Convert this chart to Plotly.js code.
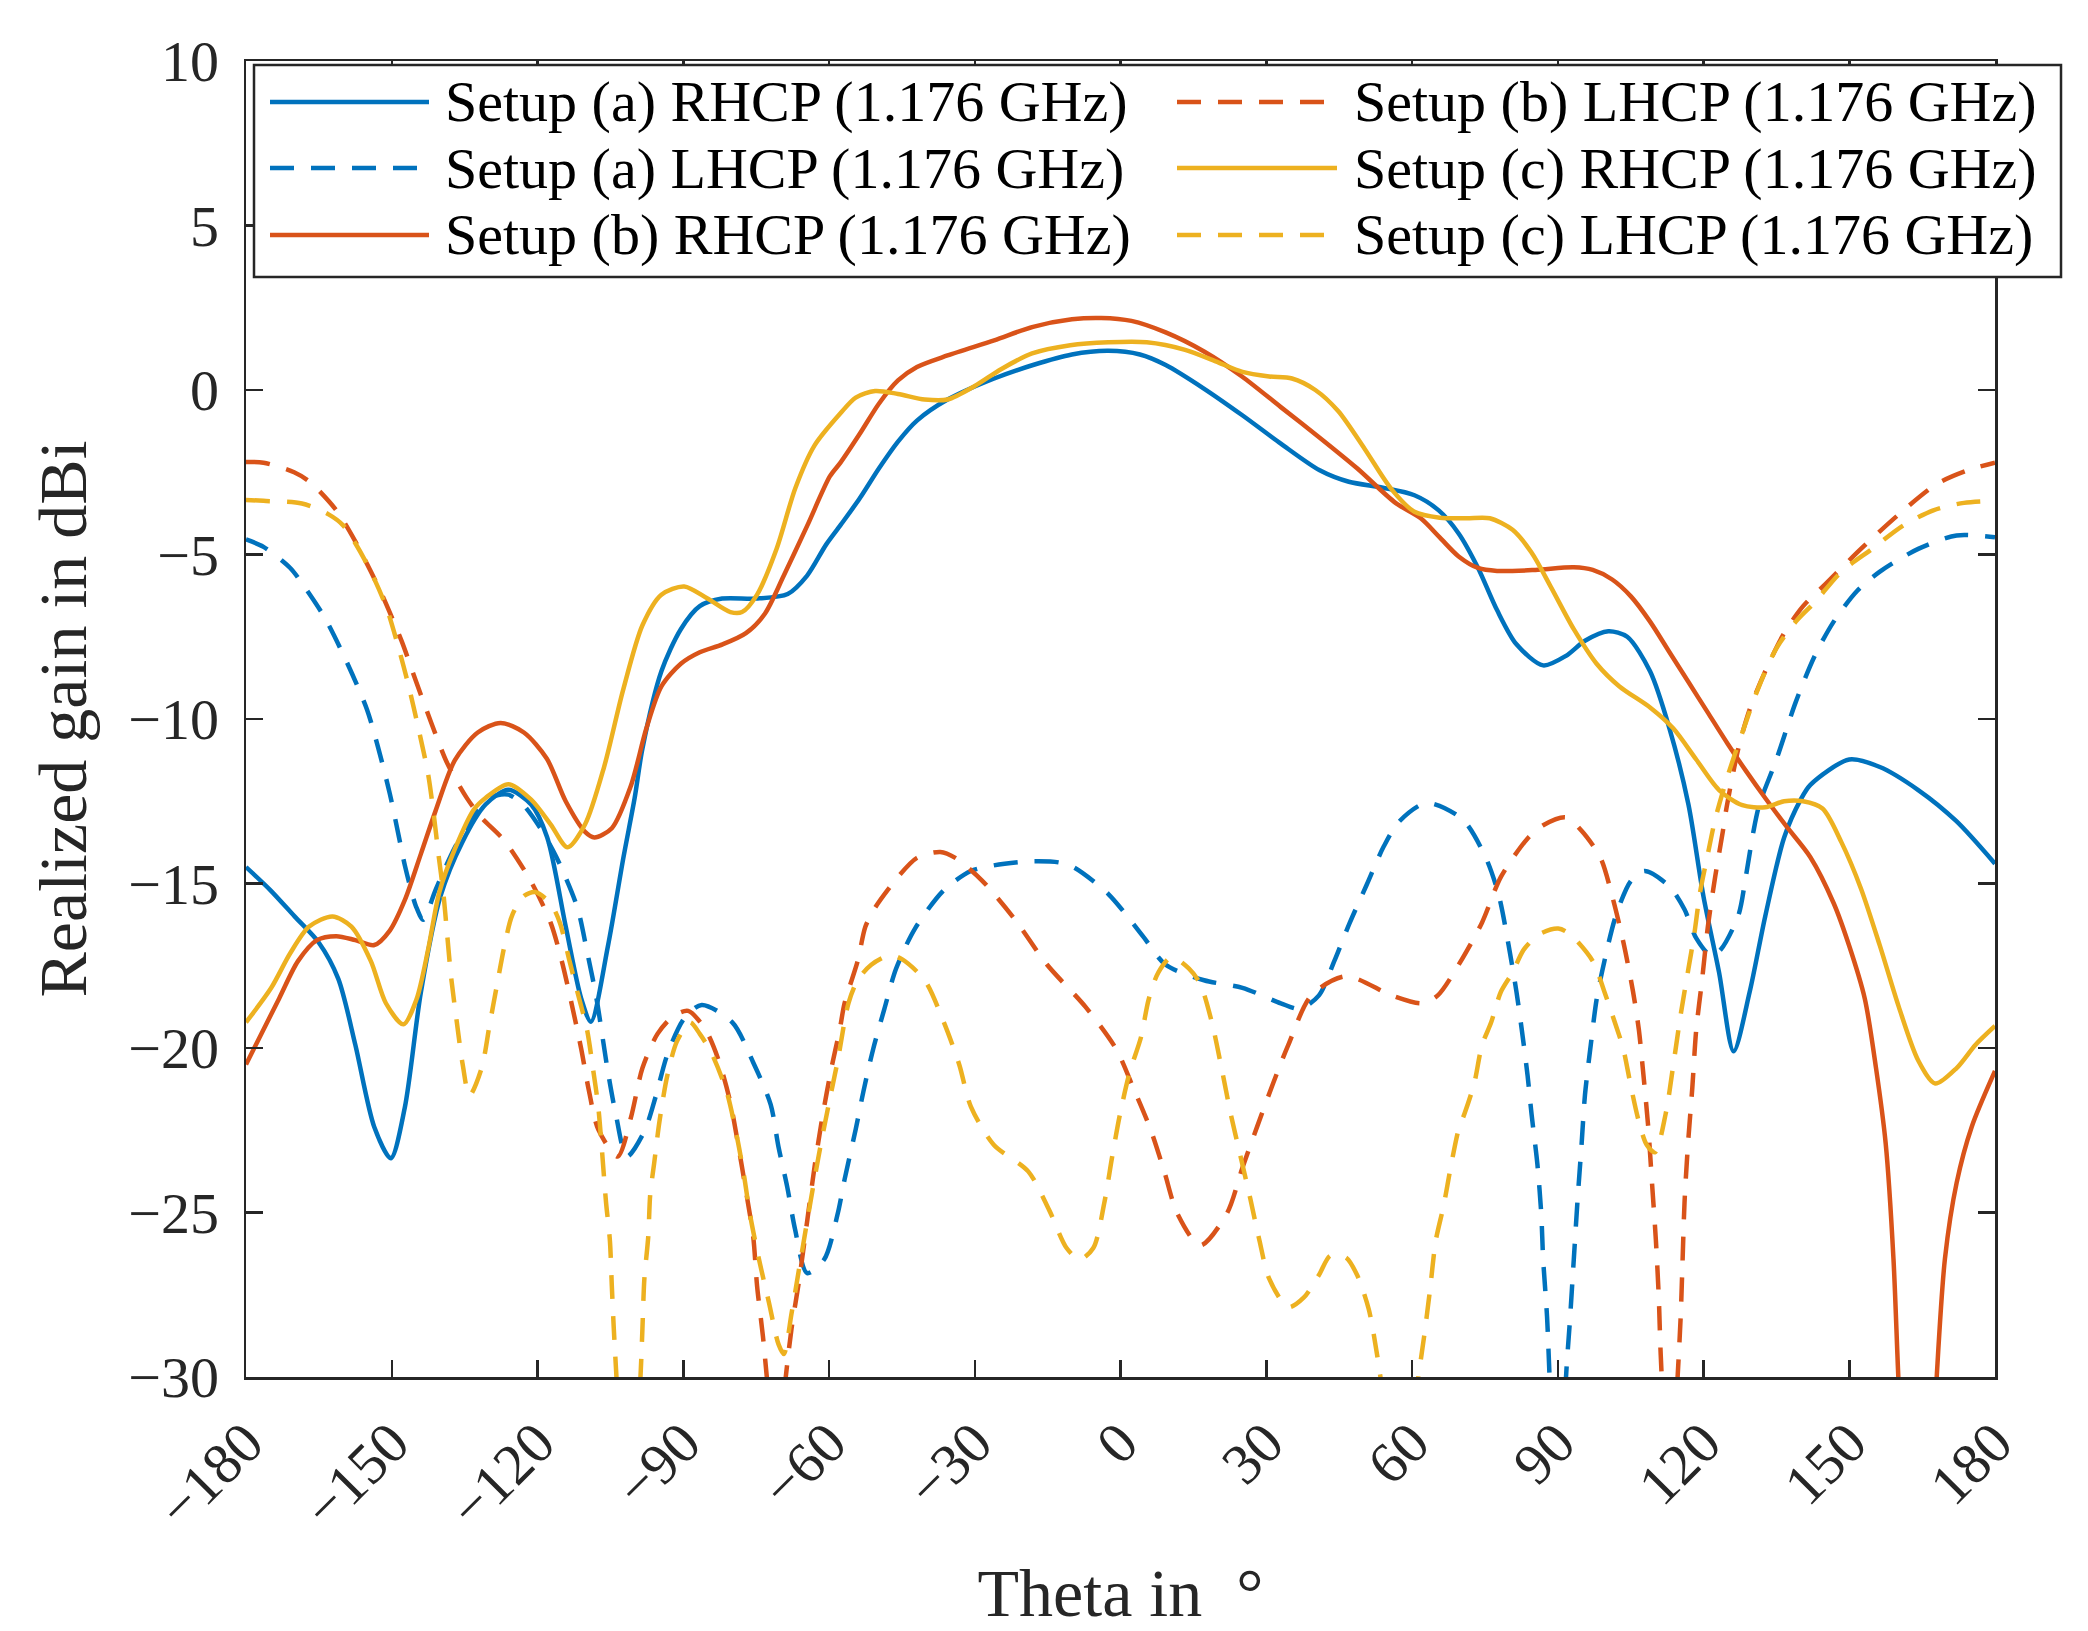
<!DOCTYPE html>
<html>
<head>
<meta charset="utf-8">
<script src="https://cdn.plot.ly/plotly-3.0.1.min.js"></script>
<style>
  html, body { margin: 0; padding: 0; background: #fff; }
  #plot { width: 2088px; height: 1631px; }
</style>
</head>
<body>
<div id="plot"></div>
<script>
// Realized gain vs theta, three antenna setups at 1.176 GHz.
// Values (deg, dBi). Points below
// -30 dBi only exist so the deep nulls run off the bottom of the axes.

const legendLabels = [
  "Setup (a) RHCP (1.176 GHz)",
  "Setup (a) LHCP (1.176 GHz)",
  "Setup (b) RHCP (1.176 GHz)",
  "Setup (b) LHCP (1.176 GHz)",
  "Setup (c) RHCP (1.176 GHz)",
  "Setup (c) LHCP (1.176 GHz)",
];

const thetaTicks = [-180, -150, -120, -90, -60, -30, 0, 30, 60, 90, 120, 150, 180];
const gainTicks = [-30, -25, -20, -15, -10, -5, 0, 5, 10];

// ── Setup (a) ──────────────────────────────────────────────────────
const thetaARhcp = [-180, -175, -170, -165, -161, -157.5, -153.6, -150.2, -147.3, -144,
  -140, -135.5, -130.7, -126, -121.3, -118, -114.2, -111, -109, -105.5,
  -102.3, -100, -98.4, -94.5, -90.5, -86.6, -82, -75, -68.5, -64.5,
  -60.6, -57.6, -53.7, -49.7, -45.8, -41.9, -35.6, -26, -18, -10,
  -2.5, 4, 9.3, 17, 25, 33, 41, 47, 54, 60.5,
  65.5, 69.6, 73.6, 77.5, 81.5, 87, 91.7, 95.6, 100.4, 104.3,
  109, 113, 116.9, 120, 123.2, 126.2, 129.5, 132.7, 136.6, 140,
  142, 150, 156.3, 164.2, 172, 180];
const gainARhcp = [-14.5, -15.2, -16.0, -16.8, -17.9, -19.9, -22.4, -23.35, -21.8, -18.3,
  -15.4, -13.75, -12.6, -12.15, -12.6, -13.6, -16.3, -18.5, -19.2, -16.9,
  -14.2, -12.4, -10.9, -8.55, -7.27, -6.57, -6.34, -6.34, -6.2, -5.64,
  -4.7, -4.1, -3.3, -2.38, -1.57, -0.93, -0.29, 0.35, 0.76, 1.08,
  1.19, 1.08, 0.76, 0.06, -0.76, -1.63, -2.44, -2.79, -2.97, -3.2,
  -3.66, -4.36, -5.41, -6.69, -7.73, -8.37, -8.08, -7.62, -7.33, -7.5,
  -8.55, -10.29, -12.6, -15.4, -17.7, -20.1, -18.3, -16.0, -13.6, -12.45,
  -12.0, -11.23, -11.46, -12.16, -13.1, -14.4];

const thetaALhcp = [-180, -176.4, -170.9, -168.5, -163.8, -159.1, -155.1, -152.8, -150.4, -148.5,
  -147.3, -145, -143.5, -141, -137, -133, -129, -126, -123, -119.5,
  -116.1, -111.8, -109.8, -107.9, -105.5, -103.9, -101.6, -98, -95.7, -93.3,
  -89.8, -86.2, -79.9, -75.6, -72, -70.4, -68.6, -67, -64.5, -61,
  -58.2, -56.8, -54.5, -52.9, -50.9, -48.6, -46.2, -42.3, -36.35, -30.8,
  -26.1, -19, -12.7, -9.6, -2.5, 4.6, 9.3, 17.2, 25.1, 33,
  36.9, 40.85, 44, 47.2, 50.7, 54.2, 57.4, 63, 70.4, 75.2,
  77.9, 79.9, 81.5, 82.6, 83.8, 84.6, 85.8, 86.6, 87, 87.8,
  88.2, 90, 91.7, 92.5, 93.3, 94.1, 94.9, 95.6, 96.8, 98,
  99.6, 102, 105.1, 107.9, 113, 116.1, 118.5, 121.6, 123.6, 127.2,
  128.7, 130.3, 131.5, 135, 139, 142.9, 146.8, 151.6, 156.3, 164.2,
  172.1, 180];
const gainALhcp = [-4.54, -4.77, -5.41, -5.87, -6.92, -8.32, -9.71, -10.87, -12.27, -13.6,
  -14.45, -15.7, -16.1, -15.2, -13.9, -12.9, -12.35, -12.3, -12.6, -13.3,
  -14.2, -15.73, -17.07, -18.46, -20.73, -22.0, -23.3, -22.53, -21.49, -20.21,
  -19.1, -18.69, -19.22, -20.44, -21.72, -23.0, -24.22, -25.5, -26.84, -26.43,
  -25.03, -24.0, -22.47, -21.31, -20.03, -18.81, -17.59, -16.37, -15.2, -14.62,
  -14.45, -14.33, -14.36, -14.51, -15.32, -16.6, -17.47, -17.94, -18.17, -18.64,
  -18.81, -18.4, -17.36, -16.19, -15.03, -13.87, -13.11, -12.55, -13.05, -14.22,
  -15.38, -16.89, -18.29, -19.45, -20.85, -22.0, -23.52, -25.03, -26.43, -28.17,
  -29.57, -36, -30, -28.29, -26.43, -24.57, -22.94, -21.43, -19.9, -18.52,
  -17.36, -15.96, -14.91, -14.62, -15.09, -15.79, -16.66, -17.2, -17.0, -15.96,
  -14.8, -13.4, -12.6, -11.23, -9.48, -8.08, -7.04, -6.11, -5.52, -4.83,
  -4.42, -4.48];

// ── Setup (b) ──────────────────────────────────────────────────────
const thetaBRhcp = [-180, -173.2, -169.3, -165.4, -161.4, -157.5, -153.6, -150.4, -147.3, -144,
  -141, -137, -132.3, -127.6, -122.8, -118.1, -114.2, -110.2, -108.3, -104.7,
  -100.8, -97.6, -94.5, -90.5, -86.6, -81.9, -77.1, -73.2, -69.3, -64.5,
  -59.8, -57.6, -53.7, -49.7, -45.8, -41.9, -35.6, -26, -18, -10,
  -4, 2.25, 9.3, 17.2, 25, 33, 41, 48.7, 56.6, 61.8,
  65.7, 69.6, 73.6, 77.5, 85.4, 93.3, 97.2, 101.2, 105.1, 109,
  113, 117, 121, 125, 128.7, 132.7, 137, 142, 146.8, 150,
  153.2, 155.5, 157.5, 159.1, 160.1, 162, 164, 166, 168, 169.7,
  172.1, 175.2, 180];
const gainBRhcp = [-20.5, -18.5, -17.36, -16.72, -16.6, -16.72, -16.87, -16.43, -15.5, -14.1,
  -12.8, -11.25, -10.41, -10.12, -10.41, -11.2, -12.5, -13.43, -13.6, -13.32,
  -12.04, -10.29, -9.01, -8.32, -7.97, -7.73, -7.39, -6.8, -5.64, -4.13,
  -2.62, -2.2, -1.34, -0.41, 0.29, 0.7, 1.05, 1.51, 1.92, 2.15,
  2.19, 2.1, 1.75, 1.17, 0.41, -0.52, -1.45, -2.38, -3.43, -3.9,
  -4.48, -5.06, -5.41, -5.5, -5.47, -5.39, -5.47, -5.76, -6.28, -7.04,
  -7.97, -8.9, -9.83, -10.76, -11.57, -12.4, -13.25, -14.2, -15.6, -16.9,
  -18.5, -20.6, -22.9, -26.4, -30, -36, -45, -36, -30, -26.4,
  -24.1, -22.4, -20.7];

const thetaBLhcp = [-180, -176.4, -170.1, -166.9, -161.4, -157.5, -154.3, -152, -148, -144.9,
  -141.7, -138.6, -134.6, -131.5, -126.8, -121.3, -117.3, -115, -113, -111,
  -109.4, -107.5, -103.5, -100.8, -98.4, -95.3, -92.1, -89, -85.4, -82.7,
  -80.3, -78.7, -77.1, -75.6, -74.8, -73.6, -72.8, -70.8, -68.9, -67.7,
  -66.1, -64.5, -63, -61.4, -59.5, -57.8, -56.8, -54.1, -52.5, -50.5,
  -45.8, -41.9, -37.1, -34, -28.5, -21.8, -15.1, -7.2, -0.9, 2.6,
  6.2, 9, 11.7, 16.4, 21.9, 25.1, 28.2, 31.4, 34.5, 39.3,
  46.4, 55.8, 62.1, 65.3, 69.6, 74.4, 78.3, 83.8, 87, 91.7,
  94.9, 98.8, 101.2, 103.5, 105.5, 106.7, 107.5, 108.6, 109.4, 110.2,
  110.8, 111.2, 113, 114.7, 115.3, 115.7, 116.1, 116.8, 117.7, 118.5,
  119.7, 120.9, 122.4, 124, 124.8, 127.2, 129.5, 132.7, 136.6, 140.5,
  145.3, 152.4, 160.2, 168.1, 174.4, 180];
const gainBLhcp = [-2.19, -2.21, -2.5, -2.79, -3.66, -4.6, -5.52, -6.22, -7.62, -8.9,
  -10.18, -11.34, -12.39, -13.0, -13.7, -14.95, -16.19, -17.36, -18.64, -20.03,
  -21.31, -22.47, -23.3, -22.13, -20.61, -19.57, -19.04, -18.87, -19.45, -20.38,
  -21.66, -22.94, -24.34, -25.73, -27.24, -28.76, -30.0, -33, -30, -28.52,
  -27.01, -25.27, -23.64, -22.13, -20.61, -19.45, -18.64, -17.36, -16.31, -15.73,
  -14.8, -14.22, -14.04, -14.22, -14.91, -16.08, -17.47, -18.75, -20.03, -21.2,
  -22.48, -23.75, -25.03, -26.0, -25.03, -23.64, -22.36, -21.08, -19.92, -18.4,
  -17.82, -18.4, -18.64, -18.4, -17.47, -16.19, -14.8, -13.63, -13.23, -12.99,
  -13.4, -14.22, -15.38, -16.78, -18.29, -19.45, -20.61, -22.36, -24.1, -25.85,
  -27.59, -29.34, -34, -29.92, -28.17, -26.43, -24.68, -22.94, -21.2, -19.45,
  -17.94, -16.31, -14.8, -13.4, -12.65, -10.88, -9.71, -8.55, -7.39, -6.57,
  -5.87, -4.83, -3.78, -2.85, -2.44, -2.21];

// ── Setup (c) ──────────────────────────────────────────────────────
const thetaCRhcp = [-180, -174.8, -170.9, -167, -162.2, -158.3, -154.3, -151.2, -147.6, -144.9,
  -142.5, -140.2, -137, -133.1, -130.7, -126, -121.3, -117.3, -113.8, -110.2,
  -106.3, -102.4, -98.4, -94.5, -89.8, -85, -80.3, -77.9, -74.8, -70.8,
  -66.9, -63, -57.6, -54.5, -50.5, -45.8, -40.3, -35.6, -30, -24.5,
  -18.2, -10.35, -2.5, 5.4, 13.3, 19.6, 25.1, 30.6, 35.3, 40.1,
  44.8, 50.3, 55.8, 60.5, 65.7, 71.2, 76, 80.7, 84.6, 88.6,
  93.3, 98, 102.7, 109, 113.8, 118.5, 123.2, 128, 132.7, 136.6,
  140.5, 144.5, 148.4, 152.4, 156.3, 160.2, 164.2, 167.7, 172.1, 176,
  180];
const gainCRhcp = [-19.22, -18.17, -17.12, -16.31, -16.0, -16.31, -17.36, -18.64, -19.28, -18.52,
  -17.0, -15.26, -13.95, -12.75, -12.4, -11.98, -12.45, -13.2, -13.9, -13.2,
  -11.46, -9.13, -7.15, -6.22, -5.97, -6.34, -6.75, -6.75, -6.22, -4.83,
  -2.97, -1.69, -0.7, -0.23, -0.03, -0.12, -0.29, -0.29, 0.12, 0.64,
  1.11, 1.36, 1.45, 1.45, 1.22, 0.87, 0.55, 0.41, 0.35, 0.0,
  -0.64, -1.8, -3.02, -3.7, -3.88, -3.9, -3.9, -4.25, -4.94, -5.99,
  -7.27, -8.32, -9.01, -9.65, -10.29, -11.23, -12.16, -12.62, -12.68, -12.5,
  -12.5, -12.72, -13.75, -15.15, -16.89, -18.75, -20.38, -21.08, -20.61, -19.9,
  -19.33];

const thetaCLhcp = [-180, -176.4, -168.5, -163, -159.9, -155.1, -151.2, -148.8, -146.5, -144.5,
  -142.5, -141.3, -140.4, -139.4, -138.6, -137.8, -136.6, -135.4, -134, -131.5,
  -129.9, -128.3, -126.8, -125.2, -122.8, -120.5, -117.3, -115.4, -113.4, -111.8,
  -109.8, -108.6, -107.5, -106.7, -105.9, -105.1, -104.7, -104.3, -103.8, -101.3,
  -98.8, -98.4, -98, -97.2, -96.8, -96, -94.9, -93.3, -91.3, -88.6,
  -86.6, -84.2, -81.1, -79.1, -77.5, -76.3, -74.4, -72.4, -70.4, -69.3,
  -67.7, -66.1, -64.5, -63, -61.4, -59.5, -58.2, -56, -54.1, -51.3,
  -47.4, -45, -40.3, -36.35, -33.2, -30.8, -26.1, -19, -14.7, -11.1,
  -8.4, -5.6, -3.3, -1.7, -0.1, 1.9, 4.2, 5.8, 7.8, 10.5,
  14.1, 16.4, 18.8, 20.8, 22.7, 24.7, 26.7, 28.6, 30.6, 34.5,
  37.7, 40.85, 43.2, 46.4, 48.7, 51.1, 52.7, 54, 57.5, 61.3,
  62.5, 63.7, 64.9, 66.5, 68.1, 69.6, 70.8, 72.8, 74.4, 76.3,
  78.3, 80.7, 83, 86.2, 90.1, 92.5, 97.2, 99.6, 102, 103.5,
  105.1, 106.7, 108.3, 110, 112.2, 113.8, 115.3, 116.9, 118.1, 119.3,
  120.9, 122.4, 124.8, 128, 131.1, 135, 139, 142.9, 148.4, 154.7,
  161, 167.3, 173.6, 180];
const gainCLhcp = [-3.34, -3.37, -3.45, -3.78, -4.13, -5.29, -6.57, -7.73, -9.01, -10.29,
  -11.69, -12.97, -14.1, -15.26, -16.54, -17.82, -19.22, -20.5, -21.45, -20.61,
  -19.33, -18.05, -16.89, -15.96, -15.38, -15.26, -15.61, -16.19, -17.36, -18.29,
  -19.45, -20.61, -21.78, -23.17, -24.68, -25.85, -27.24, -28.52, -29.86, -36,
  -29.98, -28.52, -27.01, -25.73, -24.45, -23.52, -22.24, -20.85, -19.8, -19.22,
  -19.57, -20.15, -21.31, -22.59, -23.87, -25.03, -26.43, -27.71, -29.0, -29.3,
  -28.06, -26.66, -25.27, -23.99, -22.71, -21.31, -20.38, -18.64, -17.94, -17.47,
  -17.18, -17.3, -17.94, -19.22, -20.5, -21.78, -22.94, -23.75, -24.92, -26.08,
  -26.43, -26.08, -24.68, -23.29, -22.01, -20.73, -19.68, -18.52, -17.7, -17.24,
  -17.59, -18.05, -19.22, -20.61, -22.01, -23.29, -24.57, -25.85, -27.01, -27.88,
  -27.59, -26.9, -26.31, -26.37, -26.9, -27.94, -29.22, -30.5, -34, -30,
  -28.76, -27.36, -25.85, -24.8, -23.52, -22.47, -22.0, -21.08, -19.92, -19.22,
  -18.29, -17.7, -17.01, -16.54, -16.37, -16.54, -17.36, -18.29, -19.33, -20.03,
  -21.2, -22.24, -22.94, -23.17, -22.01, -20.5, -18.99, -17.59, -16.54, -15.26,
  -14.1, -13.05, -11.81, -10.41, -9.13, -7.85, -7.04, -6.45, -5.52, -4.83,
  -4.13, -3.66, -3.43, -3.37];

(function () {
  "use strict";

  // MATLAB default line colours.
  const COLORS = {
    BLUE:   "#0072BD",
    RED:    "#D95319",
    YELLOW: "#EDB120",
    AXIS:   "#262626",
  };
  const FONT = "Liberation Serif, Times New Roman, serif";
  const DASH = "24px,17px";
  const LINE_W = 4.5;

  const SERIES = [
    { x: thetaARhcp, y: gainARhcp, color: COLORS.BLUE,   dash: "solid" },
    { x: thetaALhcp, y: gainALhcp, color: COLORS.BLUE,   dash: DASH },
    { x: thetaBRhcp, y: gainBRhcp, color: COLORS.RED,    dash: "solid" },
    { x: thetaBLhcp, y: gainBLhcp, color: COLORS.RED,    dash: DASH },
    { x: thetaCRhcp, y: gainCRhcp, color: COLORS.YELLOW, dash: "solid" },
    { x: thetaCLhcp, y: gainCLhcp, color: COLORS.YELLOW, dash: DASH },
  ];

  // Page geometry (px). Plot box sits where the MATLAB axes were.
  const W = 2088, H = 1631;
  const M = { l: 246, r: 93, t: 61, b: 254 };
  const plotW = W - M.l - M.r;
  const plotH = H - M.t - M.b;
  const px = (x) => (x - M.l) / plotW;
  const py = (y) => (H - M.b - y) / plotH;

  const traces = SERIES.map((s, i) => ({
    type: "scatter", mode: "lines",
    x: s.x, y: s.y, name: legendLabels[i],
    line: { color: s.color, width: LINE_W, dash: s.dash,
      shape: "spline", smoothing: 0.8 },
    hoverinfo: "skip", showlegend: false,
  }));

  // ── Legend drawn by hand: MATLAB's 2x3 box with long line samples ──
  const LEG = {
    box: [254, 65, 2061, 277],
    rows: [102, 168, 235],
    cols: [{ x0: 270, x1: 429, tx: 443 }, { x0: 1177, x1: 1337, tx: 1352 }],
  };
  const shapes = [{
    type: "rect", xref: "paper", yref: "paper", layer: "above",
    x0: px(LEG.box[0]), x1: px(LEG.box[2]), y0: py(LEG.box[3]), y1: py(LEG.box[1]),
    line: { color: COLORS.AXIS, width: 2.5 }, fillcolor: "#fff",
  }];
  const annotations = [];
  SERIES.forEach((s, i) => {
    const col = LEG.cols[Math.floor(i / 3)];
    const rowY = LEG.rows[i % 3];
    shapes.push({
      type: "line", xref: "paper", yref: "paper", layer: "above",
      x0: px(col.x0), x1: px(col.x1), y0: py(rowY), y1: py(rowY),
      line: { color: s.color, width: LINE_W, dash: s.dash },
    });
    annotations.push({
      xref: "paper", yref: "paper", x: px(col.tx), y: py(rowY),
      xanchor: "left", yanchor: "middle", showarrow: false,
      text: legendLabels[i], font: { family: FONT, size: 58, color: "#000" },
    });
  });

  const axisCommon = {
    ticks: "inside", ticklen: 17, tickwidth: 2.5, tickcolor: COLORS.AXIS,
    showline: true, linecolor: COLORS.AXIS, linewidth: 2.5, mirror: "ticks",
    showgrid: false, zeroline: false,
    tickfont: { family: FONT, size: 58, color: COLORS.AXIS },
  };

  const layout = {
    width: W, height: H,
    margin: M,
    paper_bgcolor: "#fff",
    plot_bgcolor: "#fff",
    font: { family: FONT, color: COLORS.AXIS },
    showlegend: false,
    hovermode: false,
    xaxis: Object.assign({}, axisCommon, {
      range: [-180, 180], tickmode: "array", tickvals: thetaTicks,
      tickangle: -45, ticklabelstandoff: 6,
      title: { text: "Theta in  °", font: { family: FONT, size: 68, color: COLORS.AXIS },
        standoff: 36 },
    }),
    yaxis: Object.assign({}, axisCommon, {
      range: [-30, 10], tickmode: "array", tickvals: gainTicks,
      ticklabelstandoff: 13,
      title: { text: "Realized gain in dBi", font: { family: FONT, size: 68, color: COLORS.AXIS },
        standoff: 20 },
    }),
    shapes,
    annotations,
  };

  Plotly.newPlot("plot", traces, layout, { staticPlot: true, displayModeBar: false });
})();
</script>
</body>
</html>
